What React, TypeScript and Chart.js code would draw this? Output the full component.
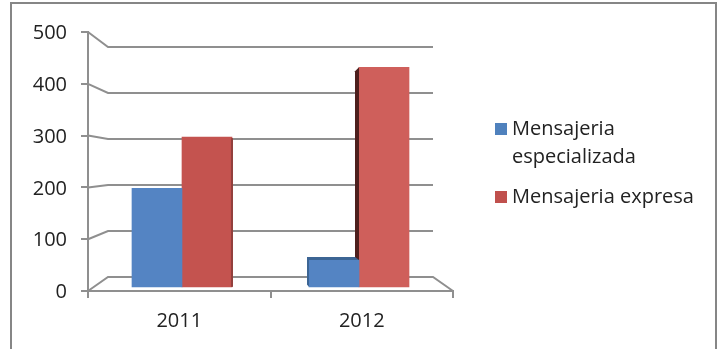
import React, { useEffect, useRef } from "react";
import { Chart, registerables } from "chart.js";

Chart.register(...registerables);

const years = [2011, 2012];
const seriesNames = [["Mensajeria", "especializada"], ["Mensajeria expresa"]];
const especializada = [198, 60];
const expresa = [297, 432];
const blueFills = ["#5484c3", "#5484c3"];
const redFills = ["#c4534f", "#cf5f5b"];
const legendColors = ["#4f81bd", "#c0504d"];
const FONT = '"Open Sans", sans-serif';
const AXIS = "#8f8f8f";
const TEXT = "#222222";

const perspectivePlugin = {
  id: "perspective",
  beforeDatasetsDraw(chart: any) {
    const { ctx, chartArea: a, scales } = chart;
    const y = scales.y;
    const y0 = y.getPixelForValue(0);
    const wx0 = a.left + 20;
    const wx1 = a.right - 20;
    const wy0 = y0 - 14;
    const k = 230 / 259;
    ctx.save();
    ctx.strokeStyle = AXIS;
    ctx.lineWidth = 2;
    y.ticks.forEach((t: any) => {
      const py = y.getPixelForValue(t.value);
      const wy = wy0 + (py - y0) * k;
      ctx.beginPath();
      ctx.moveTo(a.left, py);
      ctx.lineTo(wx0, wy);
      ctx.lineTo(wx1, wy);
      if (t.value === 0) ctx.lineTo(a.right, py);
      ctx.stroke();
    });
    ctx.restore();
  },
  afterDatasetsDraw(chart: any) {
    const { ctx } = chart;
    const blue = chart.getDatasetMeta(0).data;
    const red = chart.getDatasetMeta(1).data;
    ctx.save();
    const r0 = red[0];
    ctx.fillStyle = "#93403d";
    ctx.fillRect(r0.x + r0.width / 2 - 1, r0.y + 1, 2, r0.base - r0.y - 1);
    const b1 = blue[1];
    const bl = b1.x - b1.width / 2;
    const br = b1.x + b1.width / 2;
    ctx.fillStyle = "#3c6594";
    ctx.beginPath();
    ctx.moveTo(bl - 2, b1.y - 3);
    ctx.lineTo(br, b1.y - 3);
    ctx.lineTo(br, b1.y);
    ctx.lineTo(bl, b1.y);
    ctx.lineTo(bl, b1.base);
    ctx.lineTo(bl - 2, b1.base - 2);
    ctx.closePath();
    ctx.fill();
    const r1 = red[1];
    const rl = r1.x - r1.width / 2;
    ctx.fillStyle = "#4d1f1d";
    ctx.beginPath();
    ctx.moveTo(rl, r1.y);
    ctx.lineTo(rl - 4, r1.y + 4);
    ctx.lineTo(rl - 4, b1.y - 3);
    ctx.lineTo(rl, b1.y);
    ctx.closePath();
    ctx.fill();
    ctx.restore();
  },
};

const framePlugin = {
  id: "frame",
  beforeDraw(chart: any) {
    const { ctx } = chart;
    ctx.save();
    ctx.strokeStyle = "#868686";
    ctx.lineWidth = 2;
    ctx.beginPath();
    ctx.moveTo(11, 349);
    ctx.lineTo(11, 3);
    ctx.lineTo(716, 3);
    ctx.lineTo(716, 349);
    ctx.stroke();
    ctx.restore();
  },
};

const legendPlugin = {
  id: "sideLegend",
  afterDraw(chart: any) {
    const { ctx } = chart;
    ctx.save();
    ctx.font = `20px ${FONT}`;
    ctx.textBaseline = "middle";
    const rows = [129, 197];
    chart.data.datasets.forEach((d: any, i: number) => {
      ctx.fillStyle = legendColors[i];
      ctx.fillRect(495, rows[i] - 6, 12, 12);
      ctx.fillStyle = TEXT;
      d.label.forEach((line: string, j: number) => ctx.fillText(line, 512, rows[i] + j * 28));
    });
    ctx.restore();
  },
};

export default function App() {
  const ref = useRef<HTMLCanvasElement>(null);
  useEffect(() => {
    const chart = new Chart(ref.current!, {
      type: "bar",
      data: {
        labels: years.map(String),
        datasets: [
          {
            label: seriesNames[0] as any,
            data: years.map((x, i) => ({ x, y: especializada[i] })),
            backgroundColor: blueFills,
            xAxisID: "xb",
            yAxisID: "y",
            base: 8,
            barThickness: 50,
          },
          {
            label: seriesNames[1] as any,
            data: years.map((x, i) => ({ x, y: expresa[i] })),
            backgroundColor: redFills,
            xAxisID: "xb",
            yAxisID: "y",
            base: 8,
            barThickness: 50,
          },
        ],
      },
      options: {
        responsive: false,
        animation: false,
        layout: { padding: { top: 32, right: 270, left: 0, bottom: 0 } },
        plugins: { legend: { display: false }, title: { display: false }, tooltip: { enabled: false } },
        scales: {
          xb: { type: "linear", display: false, offset: false, min: 2010.469, max: 2012.531 },
          x: {
            type: "category",
            position: "bottom",
            offset: true,
            afterFit: (s: any) => { s.height = 58; s.paddingLeft = 0; s.paddingRight = 0; },
            grid: { drawOnChartArea: false, offset: true, color: AXIS, lineWidth: 2, tickLength: 7 },
            border: { color: AXIS, width: 2 },
            ticks: { color: TEXT, font: { family: FONT, size: 20 }, padding: 11, maxRotation: 0 },
          },
          y: {
            min: 0,
            max: 500,
            afterFit: (s: any) => { s.width = 88; s.paddingTop = 0; s.paddingBottom = 0; },
            grid: { drawOnChartArea: false, color: AXIS, lineWidth: 2, tickLength: 7 },
            border: { color: AXIS, width: 2 },
            ticks: { stepSize: 100, color: TEXT, font: { family: FONT, size: 20 }, padding: 14, labelOffset: 1.5 },
          },
        },
      } as any,
      plugins: [framePlugin, perspectivePlugin, legendPlugin],
    });
    return () => chart.destroy();
  }, []);
  return (
    <div style={{ position: "absolute", left: 0, top: 0, width: 723, height: 349, background: "#fff" }}>
      <canvas ref={ref} width={723} height={349} style={{ display: "block" }} />
    </div>
  );
}
